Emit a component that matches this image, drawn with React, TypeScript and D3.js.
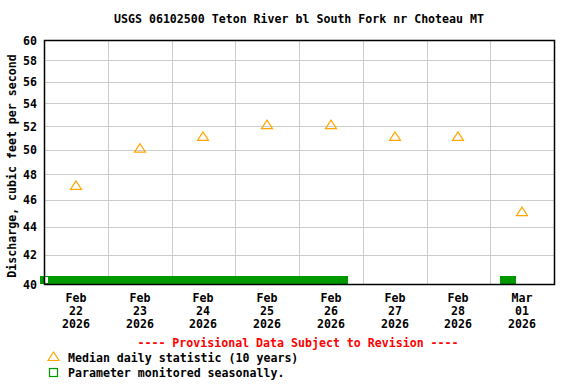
import React from "react";
import * as d3 from "d3";

const title = "USGS 06102500 Teton River bl South Fork nr Choteau MT";
const yLabel = "Discharge, cubic feet per second";
const dayLabels = [
  ["Feb", "22", "2026"],
  ["Feb", "23", "2026"],
  ["Feb", "24", "2026"],
  ["Feb", "25", "2026"],
  ["Feb", "26", "2026"],
  ["Feb", "27", "2026"],
  ["Feb", "28", "2026"],
  ["Mar", "01", "2026"],
];
const days = [
  new Date(2026, 1, 22),
  new Date(2026, 1, 23),
  new Date(2026, 1, 24),
  new Date(2026, 1, 25),
  new Date(2026, 1, 26),
  new Date(2026, 1, 27),
  new Date(2026, 1, 28),
  new Date(2026, 2, 1),
];
const medians = [47, 50, 51, 52, 52, 51, 51, 45];
const yTicks = [40, 42, 44, 46, 48, 50, 52, 54, 56, 58, 60];
const seasonal: [Date, Date][] = [
  [new Date(2026, 1, 21, 22, 30), new Date(2026, 1, 26, 18, 30)],
  [new Date(2026, 2, 1, 3, 40), new Date(2026, 2, 1, 9, 40)],
];

const W = 576;
const H = 384;
const L = 44, R = 554, T = 40, B = 284;
const FONT = "'DejaVu Sans Mono', monospace";
const ORANGE = "#ffa500";
const GREEN = "#009900";

export default function App() {
  const x = d3.scaleTime().domain([new Date(2026, 1, 22), new Date(2026, 2, 2)]).range([L, R]);
  const y = d3.scaleLog().domain([40, 60]).range([B, T]);
  const gridDays = d3.timeDay.range(new Date(2026, 1, 23), new Date(2026, 2, 2));
  const noon = (d: Date) => d3.timeHour.offset(d, 12);
  const tri = (cx: number, cy: number) =>
    `M${cx},${cy - 6}L${cx + 5.5},${cy + 2.5}L${cx - 5.5},${cy + 2.5}Z`;

  return (
    <svg width={W} height={H} style={{ position: "absolute", left: 0, top: 0, background: "#fff" }}
      fontFamily={FONT} fontWeight="bold" fontSize={11.6}>
      <rect x={0} y={0} width={W} height={H} fill="#fff" />
      <text x={(L + R) / 2} y={23} textAnchor="middle" fill="#000">{title}</text>
      {/* grid */}
      {yTicks.slice(1, -1).map((t) => (
        <line key={t} x1={L} x2={R} y1={Math.round(y(t)) + 0.5} y2={Math.round(y(t)) + 0.5} stroke="#cccccc" />
      ))}
      {gridDays.map((d, i) => (
        <line key={i} x1={Math.round(x(d)) + 0.5} x2={Math.round(x(d)) + 0.5} y1={T} y2={B} stroke="#cccccc" />
      ))}
      {/* seasonal bars */}
      {seasonal.map(([a, b], i) => (
        <rect key={i} x={Math.round(x(a))} width={Math.round(x(b)) - Math.round(x(a))} y={B - 8} height={8} fill={GREEN} />
      ))}
      <rect x={45} y={277} width={3} height={6} fill="#fff" />
      {/* frame */}
      <rect x={L + 0.5} y={T + 0.5} width={R - L} height={B - T} fill="none" stroke="#000" strokeWidth={1.5} />
      {/* medians */}
      {medians.map((v, i) => (
        <path key={i} d={tri(Math.round(x(noon(days[i]))), y(v))} fill="none" stroke={ORANGE} strokeWidth={1.2} />
      ))}
      {/* y ticks */}
      {yTicks.map((t) => (
        <text key={t} x={37} y={y(t) + 4.5} textAnchor="end" fill="#000">{t}</text>
      ))}
      <text transform={`translate(16,${166}) rotate(-90)`} textAnchor="middle" fill="#000">{yLabel}</text>
      {/* x ticks */}
      {days.map((d, i) => (
        <g key={i} transform={`translate(${Math.round(x(noon(d)))},0)`}>
          {dayLabels[i].map((s, j) => (
            <text key={j} x={0} y={302 + j * 13} textAnchor="middle" fill="#000">{s}</text>
          ))}
        </g>
      ))}
      <text x={298} y={347} textAnchor="middle" fill="#ff0000">---- Provisional Data Subject to Revision ----</text>
      <path d={tri(53.5, 358)} fill="none" stroke={ORANGE} strokeWidth={1.2} />
      <text x={68} y={361.5} fill="#000">Median daily statistic (10 years)</text>
      <rect x={49.5} y={368.5} width={8} height={8} fill="none" stroke={GREEN} strokeWidth={1.2} />
      <text x={68} y={377} fill="#000">Parameter monitored seasonally.</text>
    </svg>
  );
}
